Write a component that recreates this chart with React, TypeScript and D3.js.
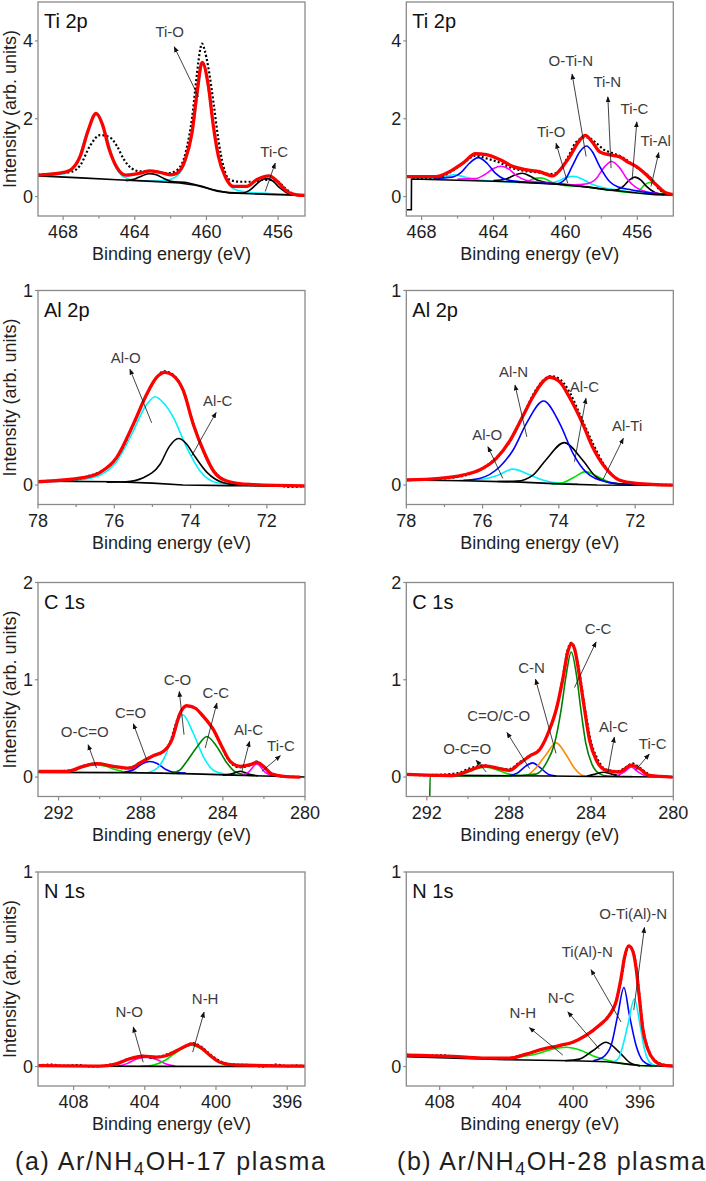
import React from "react";
import * as d3 from "d3";

type Pt = [number, number];

const FONT = "'Liberation Sans', Arial, Helvetica, sans-serif";

// ---------------- Ti 2p (a) ----------------
const tiA_fit: Pt[] = [[469.4,0.55],[468.2,0.6],[467.6,0.68],[467.05,1.03],[466.6,1.7],[466.16,2.14],[465.8,1.85],[465.45,1.25],[465.0,0.75],[464.5,0.55],[463.7,0.6],[463.15,0.66],[462.6,0.62],[462.0,0.56],[461.65,0.6],[461.19,0.94],[460.81,1.63],[460.53,2.65],[460.24,3.45],[459.89,2.84],[459.61,1.8],[459.33,1.03],[458.95,0.51],[458.49,0.26],[457.75,0.26],[457.2,0.43],[456.5,0.53],[456.07,0.4],[455.5,0.13],[454.95,0.04],[454.5,0.03]];
const tiA_raw: Pt[] = [[469.4,0.56],[468.2,0.6],[467.5,0.64],[467.05,0.8],[466.5,1.3],[465.94,1.58],[465.38,1.52],[465.0,1.3],[464.6,0.95],[464.2,0.73],[463.7,0.65],[462.95,0.65],[462.2,0.6],[461.8,0.64],[461.35,0.86],[461.1,1.25],[460.8,2.03],[460.53,3.15],[460.34,3.8],[460.25,3.93],[460.1,3.76],[459.9,3.33],[459.6,2.39],[459.33,1.45],[459.05,0.77],[458.7,0.43],[458.15,0.38],[457.4,0.38],[456.85,0.43],[456.5,0.43],[456.0,0.38],[455.6,0.21],[455.25,0.09],[454.8,0.03],[454.5,0.02]];
const tiA_TiO: Pt[] = [[469.4,0.53],[468.0,0.58],[467.3,0.8],[466.7,1.6],[466.16,2.1],[465.6,1.6],[465.1,0.8],[464.6,0.5],[464.0,0.42],[463.0,0.4],[462.2,0.42],[461.6,0.55],[461.1,1.0],[460.7,1.9],[460.2,3.4],[459.7,2.1],[459.3,1.0],[458.9,0.45],[458.4,0.18],[457.5,0.1],[456.5,0.08],[455.5,0.05],[454.5,0.03]];
const tiA_TiC: Pt[] = [[464.5,0.41],[464.0,0.45],[463.6,0.53],[463.2,0.59],[462.8,0.56],[462.4,0.47],[462.0,0.39],[461.0,0.35],[460.3,0.27],[459.5,0.16],[458.7,0.1],[458.0,0.09],[457.6,0.16],[457.2,0.32],[456.9,0.43],[456.6,0.46],[456.3,0.4],[455.9,0.22],[455.5,0.09],[455.0,0.04]];
const tiA_bg: Pt[] = [[469.4,0.53],[467,0.48],[465,0.43],[463,0.39],[461.5,0.35],[460.6,0.29],[460,0.22],[459.4,0.14],[458.7,0.09],[457.5,0.07],[456,0.05],[454.5,0.03]];

// ---------------- Ti 2p (b) ----------------
const tiB_fit: Pt[] = [[468.85,0.51],[467.2,0.51],[466.45,0.64],[465.7,0.86],[465.0,1.1],[464.4,1.08],[463.65,0.95],[462.9,0.77],[462.2,0.69],[461.45,0.64],[460.7,0.53],[460.31,0.68],[459.76,1.03],[459.2,1.45],[458.9,1.57],[458.5,1.4],[458.09,1.15],[457.53,1.07],[456.98,1.02],[456.5,0.88],[456.05,0.77],[455.5,0.56],[454.94,0.3],[454.38,0.09],[454.0,0.05]];
const tiB_raw: Pt[] = [[468.5,0.47],[467.3,0.47],[466.5,0.6],[465.7,0.85],[465.0,1.05],[464.4,0.98],[463.7,0.88],[463.0,0.74],[462.3,0.66],[461.5,0.62],[460.8,0.58],[460.4,0.64],[459.9,0.98],[459.4,1.4],[458.85,1.53],[458.3,1.38],[457.85,1.2],[457.4,1.12],[456.8,1.0],[456.2,0.8],[455.7,0.64],[455.2,0.45],[454.8,0.2],[454.4,0.08],[454.0,0.05]];
const tiB_TiO: Pt[] = [[468.3,0.45],[467.5,0.46],[466.8,0.5],[466.2,0.56],[465.6,0.5],[464.9,0.43],[464.0,0.4],[462.0,0.35],[461.0,0.34],[460.4,0.4],[460.0,0.48],[459.6,0.52],[459.1,0.46],[458.6,0.33],[458.0,0.24],[457.0,0.16],[455.5,0.07],[454.0,0.04]];
const tiB_OTiN: Pt[] = [[467.3,0.47],[466.3,0.5],[465.8,0.62],[465.35,0.85],[464.85,1.0],[464.35,0.85],[463.9,0.6],[463.4,0.45],[462.5,0.38],[461.5,0.35],[460.5,0.33],[460.0,0.45],[459.6,0.8],[459.2,1.15],[458.83,1.3],[458.5,1.15],[458.09,0.77],[457.53,0.38],[457.1,0.25],[456.3,0.17],[455.0,0.08],[454.0,0.05]];
const tiB_TiN: Pt[] = [[466.0,0.45],[465.0,0.46],[464.5,0.56],[464.0,0.72],[463.6,0.78],[463.2,0.72],[462.7,0.53],[462.2,0.42],[461.5,0.37],[460.5,0.33],[459.5,0.3],[458.8,0.33],[458.27,0.47],[457.85,0.75],[457.44,0.9],[457.0,0.75],[456.6,0.47],[456.1,0.24],[455.5,0.12],[454.5,0.06]];
const tiB_TiC: Pt[] = [[464.0,0.41],[463.3,0.45],[462.85,0.55],[462.4,0.6],[461.95,0.52],[461.5,0.41],[461.0,0.36],[460.0,0.31],[458.5,0.23],[457.3,0.16],[456.79,0.26],[456.45,0.42],[456.14,0.5],[455.8,0.42],[455.49,0.26],[455.0,0.1],[454.5,0.05]];
const tiB_TiAl: Pt[] = [[462.6,0.36],[462.1,0.4],[461.75,0.46],[461.4,0.48],[461.05,0.44],[460.7,0.35],[460.2,0.3],[459.0,0.25],[457.0,0.13],[456.2,0.1],[455.87,0.17],[455.6,0.3],[455.31,0.36],[455.0,0.3],[454.76,0.17],[454.4,0.07],[454.0,0.04]];
const tiB_bg: Pt[] = [[468.85,-0.34],[468.57,-0.34],[468.56,0.45],[466,0.42],[463,0.38],[460.5,0.32],[459,0.26],[457.5,0.17],[456,0.09],[455,0.05],[454,0.04]];

// ---------------- Al 2p (a) ----------------
const alA_fit: Pt[] = [[78,0.017],[76.82,0.038],[76.38,0.064],[75.94,0.141],[75.5,0.313],[75.15,0.467],[74.89,0.553],[74.67,0.579],[74.45,0.562],[74.19,0.485],[73.93,0.313],[73.66,0.175],[73.4,0.072],[73.05,0.021],[72.44,0.003],[71,-0.005]];
const alA_raw: Pt[] = [[78,0.02],[77.2,0.025],[76.7,0.045],[76.3,0.075],[75.9,0.15],[75.5,0.31],[75.15,0.465],[74.9,0.55],[74.7,0.585],[74.45,0.565],[74.2,0.49],[73.95,0.33],[73.7,0.19],[73.4,0.075],[73.05,0.02],[72.5,0.0],[71.8,0.0],[71.4,-0.01],[71,-0.005]];
const alA_AlO: Pt[] = [[78,0.015],[76.8,0.03],[76.38,0.05],[75.94,0.12],[75.5,0.278],[75.2,0.4],[74.93,0.454],[74.7,0.42],[74.45,0.347],[74.1,0.192],[73.75,0.072],[73.31,0.012],[72.8,0.003],[71,-0.005]];
const alA_AlC: Pt[] = [[76.2,0.015],[75.7,0.017],[75.24,0.038],[74.8,0.107],[74.55,0.2],[74.32,0.239],[74.1,0.21],[73.93,0.16],[73.57,0.065],[73.14,0.012],[72.7,0.0],[71,-0.005]];
const alA_bg: Pt[] = [[78,0.02],[76,0.017],[75,0.01],[74.2,0.0],[73,-0.003],[71,-0.005]];

// ---------------- Al 2p (b) ----------------
const alB_fit: Pt[] = [[78,0.026],[77.13,0.034],[76.52,0.051],[76.08,0.077],[75.64,0.137],[75.3,0.223],[74.95,0.352],[74.68,0.454],[74.42,0.531],[74.25,0.554],[73.98,0.531],[73.73,0.454],[73.38,0.317],[73.12,0.197],[72.77,0.086],[72.42,0.026],[71.97,0.009],[71,0.0]];
const alB_raw: Pt[] = [[78,0.026],[77,0.034],[76.3,0.06],[75.7,0.13],[75.3,0.22],[74.95,0.35],[74.7,0.455],[74.45,0.53],[74.2,0.56],[73.95,0.54],[73.7,0.47],[73.4,0.34],[73.1,0.21],[72.8,0.1],[72.45,0.03],[72,0.008],[71,0.0]];
const alB_AlN: Pt[] = [[76.5,0.024],[76.08,0.034],[75.55,0.094],[75.2,0.18],[74.85,0.317],[74.4,0.432],[73.98,0.317],[73.63,0.163],[73.3,0.069],[72.77,0.017],[72.3,0.005],[71.5,0.0]];
const alB_AlC: Pt[] = [[75.6,0.018],[75.1,0.02],[74.68,0.051],[74.34,0.129],[73.86,0.218],[73.38,0.129],[73.03,0.043],[72.6,0.01],[72.0,0.003]];
const alB_AlO: Pt[] = [[76.6,0.024],[76.0,0.03],[75.6,0.05],[75.2,0.082],[74.8,0.055],[74.4,0.025],[74.0,0.01],[73.5,0.006]];
const alB_AlTi: Pt[] = [[74.2,0.006],[73.9,0.012],[73.6,0.04],[73.3,0.069],[73.0,0.045],[72.7,0.017],[72.4,0.005]];
const alB_bg: Pt[] = [[78,0.026],[76.5,0.022],[75,0.015],[74,0.006],[73,0.0],[71,-0.002]];

// ---------------- C 1s (a) ----------------
const cA_fit: Pt[] = [[292.96,0.058],[291.6,0.058],[290.8,0.11],[290.15,0.137],[289.34,0.11],[288.52,0.092],[288.04,0.144],[287.39,0.22],[286.9,0.262],[286.49,0.38],[286.08,0.657],[285.76,0.733],[285.35,0.709],[284.95,0.624],[284.46,0.487],[284.05,0.315],[283.64,0.161],[283.16,0.11],[282.67,0.127],[282.34,0.151],[282.02,0.11],[281.61,0.031],[281.04,0.007],[280.23,0.0]];
const cA_raw: Pt[] = [[293,0.055],[292,0.06],[291.3,0.07],[290.7,0.12],[290.2,0.14],[289.5,0.12],[288.8,0.09],[288.2,0.12],[287.6,0.2],[287.0,0.25],[286.6,0.34],[286.2,0.6],[285.8,0.73],[285.4,0.72],[285.0,0.63],[284.5,0.5],[284.1,0.33],[283.7,0.17],[283.2,0.1],[282.7,0.12],[282.35,0.16],[282.0,0.1],[281.6,0.03],[281,0.005],[280.2,0.0]];
const cA_OCO: Pt[] = [[291.8,0.05],[291.2,0.07],[290.7,0.11],[290.2,0.125],[289.7,0.11],[289.2,0.075],[288.7,0.052],[288.2,0.05]];
const cA_CdO: Pt[] = [[288.8,0.05],[288.3,0.08],[287.9,0.14],[287.55,0.16],[287.2,0.14],[286.8,0.08],[286.3,0.045],[285.8,0.04]];
const cA_CO: Pt[] = [[287.6,0.05],[287.2,0.09],[286.82,0.21],[286.4,0.45],[285.95,0.64],[285.44,0.45],[284.95,0.21],[284.46,0.07],[283.9,0.03],[283.3,0.02]];
const cA_CC: Pt[] = [[286.5,0.04],[286.1,0.07],[285.76,0.16],[285.24,0.315],[284.78,0.417],[284.3,0.315],[283.8,0.144],[283.45,0.06],[283.0,0.025],[282.5,0.015]];
const cA_AlC: Pt[] = [[284.0,0.02],[283.6,0.03],[283.15,0.06],[282.75,0.03],[282.3,0.012]];
const cA_TiC: Pt[] = [[283.1,0.015],[282.75,0.05],[282.34,0.135],[281.95,0.05],[281.6,0.012]];
const cA_bg: Pt[] = [[293,0.048],[289,0.045],[287,0.04],[285,0.03],[283.5,0.02],[282,0.01],[280,0.0]];

// ---------------- C 1s (b) ----------------
const cB_fit: Pt[] = [[293,0.028],[290.73,0.016],[289.92,0.069],[289.19,0.115],[288.46,0.087],[287.98,0.069],[287.49,0.139],[287.0,0.215],[286.52,0.278],[286.03,0.486],[285.7,0.694],[285.38,1.007],[285.14,1.285],[284.97,1.372],[284.81,1.319],[284.57,1.042],[284.32,0.694],[284.08,0.382],[283.75,0.174],[283.27,0.069],[282.62,0.052],[282.05,0.122],[281.65,0.087],[281.16,0.016],[280.03,0.0]];
const cB_raw: Pt[] = [[293,0.03],[292.2,0.02],[291.2,0.025],[290.5,0.04],[289.9,0.09],[289.2,0.12],[288.5,0.09],[288.0,0.08],[287.5,0.15],[287.0,0.22],[286.5,0.29],[286.0,0.5],[285.7,0.7],[285.4,1.0],[285.15,1.3],[284.97,1.38],[284.8,1.32],[284.55,1.05],[284.3,0.7],[284.05,0.4],[283.7,0.19],[283.3,0.08],[282.7,0.06],[282.3,0.1],[282.0,0.14],[281.6,0.09],[281.1,0.02],[280.5,0.005],[280,0.0]];
const cB_OCO: Pt[] = [[290.6,0.015],[290.0,0.05],[289.5,0.09],[289.1,0.1],[288.6,0.075],[288.1,0.035],[287.5,0.015]];
const cB_CdO: Pt[] = [[288.0,0.015],[287.6,0.04],[287.2,0.11],[286.85,0.146],[286.5,0.1],[286.1,0.03],[285.7,0.01]];
const cB_CN: Pt[] = [[287.1,0.015],[286.7,0.09],[286.2,0.229],[285.7,0.351],[285.22,0.229],[284.81,0.09],[284.4,0.015],[284.0,0.008]];
const cB_CC: Pt[] = [[291.86,-0.25],[291.84,0.01],[290,0.012],[288,0.012],[286.7,0.03],[286.2,0.139],[285.78,0.347],[285.46,0.694],[285.22,1.042],[284.97,1.285],[284.71,1.042],[284.5,0.694],[284.26,0.347],[283.94,0.122],[283.6,0.035],[283.2,0.01],[282,0.005]];
const cB_AlC: Pt[] = [[284.2,0.01],[283.8,0.03],[283.4,0.05],[283.0,0.03],[282.6,0.01]];
const cB_TiC: Pt[] = [[282.75,0.01],[282.4,0.05],[282.05,0.104],[281.7,0.05],[281.35,0.01]];
const cB_bg: Pt[] = [[293,0.02],[289,0.015],[286,0.01],[284,0.005],[280,0.0]];

// ---------------- N 1s (a) ----------------
const nA_fit: Pt[] = [[410,0.005],[406.5,0.002],[405.6,0.014],[404.85,0.04],[404.1,0.053],[403.35,0.048],[402.77,0.057],[402.2,0.082],[401.64,0.108],[401.36,0.117],[400.89,0.1],[400.33,0.057],[399.77,0.022],[399.0,0.009],[395,0.002]];
const nA_raw: Pt[] = [[410,0.005],[409.3,0.01],[408.5,0.003],[407.8,0.008],[407,0.0],[406.2,0.006],[405.5,0.018],[404.9,0.04],[404.2,0.055],[403.6,0.045],[403,0.055],[402.4,0.075],[401.8,0.1],[401.3,0.12],[400.8,0.1],[400.3,0.06],[399.7,0.025],[399,0.01],[398.2,0.008],[397.4,0.0],[396.6,0.01],[396,0.002],[395.4,0.006],[395,0.0]];
const nA_NO: Pt[] = [[405.5,0.002],[405.0,0.015],[404.5,0.038],[403.9,0.048],[403.3,0.035],[402.8,0.013],[402.3,0.002]];
const nA_NH: Pt[] = [[404.2,0.001],[403.5,0.008],[402.8,0.035],[402.2,0.075],[401.4,0.11],[400.8,0.09],[400.2,0.045],[399.6,0.012],[399,0.001]];
const nA_bg: Pt[] = [[410,0.003],[403,0.001],[395,0.0]];

// ---------------- N 1s (b) ----------------
const nB_fit: Pt[] = [[410,0.059],[407.21,0.052],[405.21,0.043],[403.82,0.043],[402.82,0.064],[401.82,0.09],[400.83,0.108],[400.03,0.125],[399.23,0.16],[398.43,0.212],[397.83,0.264],[397.43,0.333],[397.13,0.455],[396.93,0.559],[396.67,0.62],[396.43,0.594],[396.23,0.507],[396.03,0.351],[395.83,0.194],[395.53,0.09],[395.13,0.03],[394.63,0.007],[394.03,0.003]];
const nB_raw: Pt[] = [[410,0.062],[409,0.055],[408,0.058],[407,0.05],[406,0.047],[405,0.04],[404,0.042],[403,0.06],[402,0.085],[401,0.105],[400,0.125],[399.2,0.165],[398.4,0.215],[397.8,0.27],[397.4,0.34],[397.1,0.46],[396.9,0.56],[396.65,0.62],[396.4,0.59],[396.2,0.5],[396.0,0.34],[395.8,0.19],[395.5,0.09],[395.1,0.03],[394.6,0.01],[394,0.0]];
const nB_NH: Pt[] = [[404.5,0.036],[403.5,0.045],[402.22,0.064],[401.2,0.09],[400.43,0.099],[399.6,0.085],[398.83,0.056],[397.8,0.03],[396.8,0.012],[395.8,0.004],[395,0.002]];
const nB_NC: Pt[] = [[400.5,0.03],[399.63,0.038],[398.83,0.081],[398.03,0.125],[397.23,0.073],[396.6,0.02],[396,0.003]];
const nB_TiN: Pt[] = [[398.8,0.03],[398.23,0.047],[397.73,0.108],[397.33,0.264],[396.96,0.406],[396.63,0.264],[396.23,0.108],[395.83,0.03],[395.3,0.005]];
const nB_OTiN: Pt[] = [[397.7,0.02],[397.3,0.04],[397.08,0.09],[396.73,0.212],[396.33,0.347],[395.99,0.212],[395.73,0.09],[395.4,0.02],[395.0,0.003]];
const nB_bg: Pt[] = [[410,0.05],[404,0.035],[400,0.03],[398,0.025],[397,0.015],[396,0.005],[394,0.0]];

// ---------------- axes ----------------
const tiTicks = [468, 464, 460, 456];
const tiMinor = [466, 462, 458];
const alTicks = [78, 76, 74, 72];
const alMinor = [77, 75, 73];
const cTicks = [292, 288, 284, 280];
const cMinor = [290, 286, 282];
const nTicks = [408, 404, 400, 396];
const nMinor = [406, 402, 398];

const CYAN = "#00f0ff";
const BLUE = "#0000ff";
const MAGENTA = "#ff00ff";
const GREEN = "#00e000";
const DKGREEN = "#008000";
const ORANGE = "#ff8c00";
const BLACK = "#000000";
const RED = "#ff0000";

interface Comp { data: Pt[]; color: string }
interface Label { text: string; at: Pt; from: Pt; to: Pt }
interface Panel {
  title: string; col: number; row: number;
  xDomain: [number, number]; yDomain: [number, number];
  xTicks: number[]; xMinor: number[]; yTicks: number[];
  comps: Comp[]; bg: Pt[]; raw: Pt[]; fit: Pt[]; labels: Label[];
}

const panels: Panel[] = [
  {
    title: "Ti 2p", col: 0, row: 0, xDomain: [469.4, 454.5], yDomain: [-0.5, 5],
    xTicks: tiTicks, xMinor: tiMinor, yTicks: [0, 2, 4],
    comps: [{ data: tiA_TiO, color: CYAN }, { data: tiA_TiC, color: BLACK }],
    bg: tiA_bg, raw: tiA_raw, fit: tiA_fit,
    labels: [
      { text: "Ti-O", at: [462.05, 4.23], from: [460.44, 2.56], to: [461.8, 3.85] },
      { text: "Ti-C", at: [456.22, 1.15], from: [456.72, 0.13], to: [456.16, 0.86] },
    ],
  },
  {
    title: "Ti 2p", col: 1, row: 0, xDomain: [468.85, 454], yDomain: [-0.5, 5],
    xTicks: tiTicks, xMinor: tiMinor, yTicks: [0, 2, 4],
    comps: [
      { data: tiB_TiO, color: CYAN }, { data: tiB_TiAl, color: GREEN },
      { data: tiB_TiC, color: BLACK }, { data: tiB_TiN, color: MAGENTA },
      { data: tiB_OTiN, color: BLUE },
    ],
    bg: tiB_bg, raw: tiB_raw, fit: tiB_fit,
    labels: [
      { text: "Ti-O", at: [460.79, 1.667], from: [459.87, 0.343], to: [460.52, 1.37] },
      { text: "O-Ti-N", at: [459.7, 3.5], from: [458.85, 1.03], to: [459.63, 3.15] },
      { text: "Ti-N", at: [457.67, 2.95], from: [457.46, 0.73], to: [457.64, 2.56] },
      { text: "Ti-C", at: [456.16, 2.27], from: [456.29, 0.43], to: [456.03, 1.92] },
      { text: "Ti-Al", at: [454.98, 1.45], from: [455.24, 0.26], to: [454.81, 1.13] },
    ],
  },
  {
    title: "Al 2p", col: 0, row: 1, xDomain: [78, 71], yDomain: [-0.1, 1],
    xTicks: alTicks, xMinor: alMinor, yTicks: [0, 1],
    comps: [{ data: alA_AlO, color: CYAN }, { data: alA_AlC, color: BLACK }],
    bg: alA_bg, raw: alA_raw, fit: alA_fit,
    labels: [
      { text: "Al-O", at: [75.7, 0.654], from: [75.02, 0.32], to: [75.59, 0.595] },
      { text: "Al-C", at: [73.29, 0.433], from: [73.97, 0.15], to: [73.33, 0.373] },
    ],
  },
  {
    title: "Al 2p", col: 1, row: 1, xDomain: [78, 71], yDomain: [-0.1, 1],
    xTicks: alTicks, xMinor: alMinor, yTicks: [0, 1],
    comps: [
      { data: alB_AlO, color: CYAN }, { data: alB_AlTi, color: GREEN },
      { data: alB_AlC, color: BLACK }, { data: alB_AlN, color: BLUE },
    ],
    bg: alB_bg, raw: alB_raw, fit: alB_fit,
    labels: [
      { text: "Al-N", at: [75.19, 0.583], from: [74.84, 0.248], to: [75.15, 0.514] },
      { text: "Al-C", at: [73.33, 0.505], from: [73.59, 0.12], to: [73.29, 0.446] },
      { text: "Al-Ti", at: [72.21, 0.308], from: [72.85, 0.026], to: [72.31, 0.24] },
      { text: "Al-O", at: [75.88, 0.257], from: [75.47, 0.034], to: [75.86, 0.197] },
    ],
  },
  {
    title: "C 1s", col: 0, row: 2, xDomain: [293, 280], yDomain: [-0.2, 2],
    xTicks: cTicks, xMinor: cMinor, yTicks: [0, 1, 2],
    comps: [
      { data: cA_OCO, color: GREEN }, { data: cA_CdO, color: BLUE },
      { data: cA_CO, color: CYAN }, { data: cA_CC, color: DKGREEN },
      { data: cA_AlC, color: BLACK }, { data: cA_TiC, color: MAGENTA },
    ],
    bg: cA_bg, raw: cA_raw, fit: cA_fit,
    labels: [
      { text: "O-C=O", at: [290.72, 0.469], from: [290.15, 0.092], to: [290.56, 0.332] },
      { text: "C=O", at: [288.49, 0.658], from: [287.71, 0.178], to: [288.36, 0.548] },
      { text: "C-O", at: [286.21, 1.0], from: [285.89, 0.435], to: [286.12, 0.88] },
      { text: "C-C", at: [284.34, 0.863], from: [284.86, 0.298], to: [284.29, 0.76] },
      { text: "Al-C", at: [282.75, 0.486], from: [283.07, 0.058], to: [282.7, 0.366] },
      { text: "Ti-C", at: [281.17, 0.32], from: [282.1, 0.058], to: [281.2, 0.22] },
    ],
  },
  {
    title: "C 1s", col: 1, row: 2, xDomain: [293, 280], yDomain: [-0.2, 2],
    xTicks: cTicks, xMinor: cMinor, yTicks: [0, 1, 2],
    comps: [
      { data: cB_OCO, color: GREEN }, { data: cB_CdO, color: BLUE },
      { data: cB_CN, color: ORANGE }, { data: cB_CC, color: DKGREEN },
      { data: cB_AlC, color: BLACK }, { data: cB_TiC, color: MAGENTA },
    ],
    bg: cB_bg, raw: cB_raw, fit: cB_fit,
    labels: [
      { text: "O-C=O", at: [290.04, 0.295], from: [289.11, 0.052], to: [289.6, 0.173] },
      { text: "C=O/C-O", at: [288.5, 0.631], from: [287.0, 0.087], to: [288.1, 0.458] },
      { text: "C-N", at: [286.9, 1.128], from: [285.71, 0.243], to: [286.71, 1.006] },
      { text: "C-C", at: [283.66, 1.527], from: [284.81, 0.92], to: [283.76, 1.389] },
      { text: "Al-C", at: [282.91, 0.514], from: [283.19, 0.042], to: [282.87, 0.41] },
      { text: "Ti-C", at: [281.0, 0.347], from: [281.85, 0.069], to: [281.17, 0.236] },
    ],
  },
  {
    title: "N 1s", col: 0, row: 3, xDomain: [410, 395], yDomain: [-0.1, 1],
    xTicks: nTicks, xMinor: nMinor, yTicks: [0, 1],
    comps: [{ data: nA_NO, color: MAGENTA }, { data: nA_NH, color: GREEN }],
    bg: nA_bg, raw: nA_raw, fit: nA_fit,
    labels: [
      { text: "N-O", at: [404.88, 0.284], from: [404.09, 0.022], to: [404.65, 0.203] },
      { text: "N-H", at: [400.61, 0.349], from: [401.31, 0.074], to: [400.67, 0.28] },
    ],
  },
  {
    title: "N 1s", col: 1, row: 3, xDomain: [410, 394], yDomain: [-0.1, 1],
    xTicks: nTicks, xMinor: nMinor, yTicks: [0, 1],
    comps: [
      { data: nB_NH, color: GREEN }, { data: nB_NC, color: BLACK },
      { data: nB_TiN, color: BLUE }, { data: nB_OTiN, color: CYAN },
    ],
    bg: nB_bg, raw: nB_raw, fit: nB_fit,
    labels: [
      { text: "N-H", at: [403.02, 0.276], from: [400.62, 0.059], to: [402.62, 0.2] },
      { text: "N-C", at: [400.72, 0.354], from: [398.43, 0.09], to: [400.32, 0.281] },
      { text: "Ti(Al)-N", at: [399.16, 0.589], from: [397.13, 0.229], to: [398.93, 0.498] },
      { text: "O-Ti(Al)-N", at: [396.4, 0.785], from: [396.37, 0.29], to: [395.73, 0.715] },
    ],
  },
];

const COLS = [38, 406.3];
const ROWS = [2, 290.5, 582.5, 872];
const W = 267;
const H = 214;
const FRAME = "#8a8a8a";
const TXT = "#1e1e1e";
const LBL = "#3c3c3c";

function PanelView({ p, idx }: { p: Panel; idx: number }) {
  const x0 = COLS[p.col];
  const y0 = ROWS[p.row];
  const xs = d3.scaleLinear().domain(p.xDomain).range([x0, x0 + W]);
  const ys = d3.scaleLinear().domain(p.yDomain).range([y0 + H, y0]);
  const smooth = d3.line<Pt>().x((d) => xs(d[0])).y((d) => ys(d[1])).curve(d3.curveMonotoneX);
  const straight = d3.line<Pt>().x((d) => xs(d[0])).y((d) => ys(d[1]));
  const clipId = `clip${idx}`;
  const yb = y0 + H;
  return (
    <g>
      <defs>
        <clipPath id={clipId}>
          <rect x={x0} y={y0} width={W} height={H} />
        </clipPath>
      </defs>
      <g clipPath={`url(#${clipId})`}>
        {p.comps.map((c, i) => (
          <path key={i} d={smooth(c.data) || ""} fill="none" stroke={c.color} strokeWidth={1.6} />
        ))}
        <path d={straight(p.bg) || ""} fill="none" stroke={BLACK} strokeWidth={1.6} />
        <path d={smooth(p.raw) || ""} fill="none" stroke={BLACK} strokeWidth={2.2} strokeDasharray="2 2.2" />
        <path d={smooth(p.fit) || ""} fill="none" stroke={RED} strokeWidth={3.3} strokeLinejoin="round" />
      </g>
      {p.labels.map((l, i) => (
        <g key={i}>
          <line x1={xs(l.from[0])} y1={ys(l.from[1])} x2={xs(l.to[0])} y2={ys(l.to[1])}
            stroke="#111" strokeWidth={0.8} markerEnd="url(#arrow)" />
          <text x={xs(l.at[0])} y={ys(l.at[1]) + 5.4} textAnchor="middle" fontSize={15}
            fill={LBL} fontFamily={FONT}>{l.text}</text>
        </g>
      ))}
      <rect x={x0} y={y0} width={W} height={H} fill="none" stroke={FRAME} strokeWidth={1.3} />
      {p.xTicks.map((t) => (
        <g key={"xt" + t}>
          <line x1={xs(t)} x2={xs(t)} y1={yb} y2={yb + 4} stroke={FRAME} strokeWidth={1.2} />
          <text x={xs(t)} y={yb + 22} textAnchor="middle" fontSize={18} fill={TXT} fontFamily={FONT}>{t}</text>
        </g>
      ))}
      {p.xMinor.map((t) => (
        <line key={"xm" + t} x1={xs(t)} x2={xs(t)} y1={yb} y2={yb + 2.5} stroke={FRAME} strokeWidth={1.2} />
      ))}
      {p.yTicks.map((t) => (
        <g key={"yt" + t}>
          <line x1={x0 - 3} x2={x0} y1={ys(t)} y2={ys(t)} stroke={FRAME} strokeWidth={1.2} />
          <text x={x0 - 5} y={ys(t) + 6.4} textAnchor="end" fontSize={18} fill={TXT} fontFamily={FONT}>{t}</text>
        </g>
      ))}
      <text x={x0 + (W) / 2} y={yb + 44} textAnchor="middle" fontSize={18} fill={TXT} fontFamily={FONT}>
        Binding energy (eV)
      </text>
      {p.col === 0 && (
        <text transform={`translate(16,${y0 + H / 2}) rotate(-90)`} textAnchor="middle" fontSize={18}
          fill={TXT} fontFamily={FONT}>Intensity (arb. units)</text>
      )}
      <text x={x0 + 6} y={y0 + 26} fontSize={20} fill="#111" fontFamily={FONT}>{p.title}</text>
    </g>
  );
}

export default function App() {
  return (
    <svg width={706} height={1181} viewBox="0 0 706 1181"
      style={{ position: "absolute", left: 0, top: 0, display: "block", background: "#fff" }}>
      <defs>
        <marker id="arrow" viewBox="0 0 10 10" refX={9} refY={5} markerWidth={6} markerHeight={6}
          markerUnits="userSpaceOnUse" orient="auto">
          <path d="M0,1 L10,5 L0,9 z" fill="#111" />
        </marker>
      </defs>
      <rect x={0} y={0} width={706} height={1181} fill="#fff" />
      {panels.map((p, i) => <PanelView key={i} p={p} idx={i} />)}
      <text x={15} y={1170} fontSize={25} fill={TXT} fontFamily={FONT} textLength={310} lengthAdjust="spacing">
        (a) Ar/NH<tspan dy={5} fontSize={18}>4</tspan><tspan dy={-5}>OH-17 plasma</tspan>
      </text>
      <text x={397} y={1170} fontSize={25} fill={TXT} fontFamily={FONT} textLength={308} lengthAdjust="spacing">
        (b) Ar/NH<tspan dy={5} fontSize={18}>4</tspan><tspan dy={-5}>OH-28 plasma</tspan>
      </text>
    </svg>
  );
}
